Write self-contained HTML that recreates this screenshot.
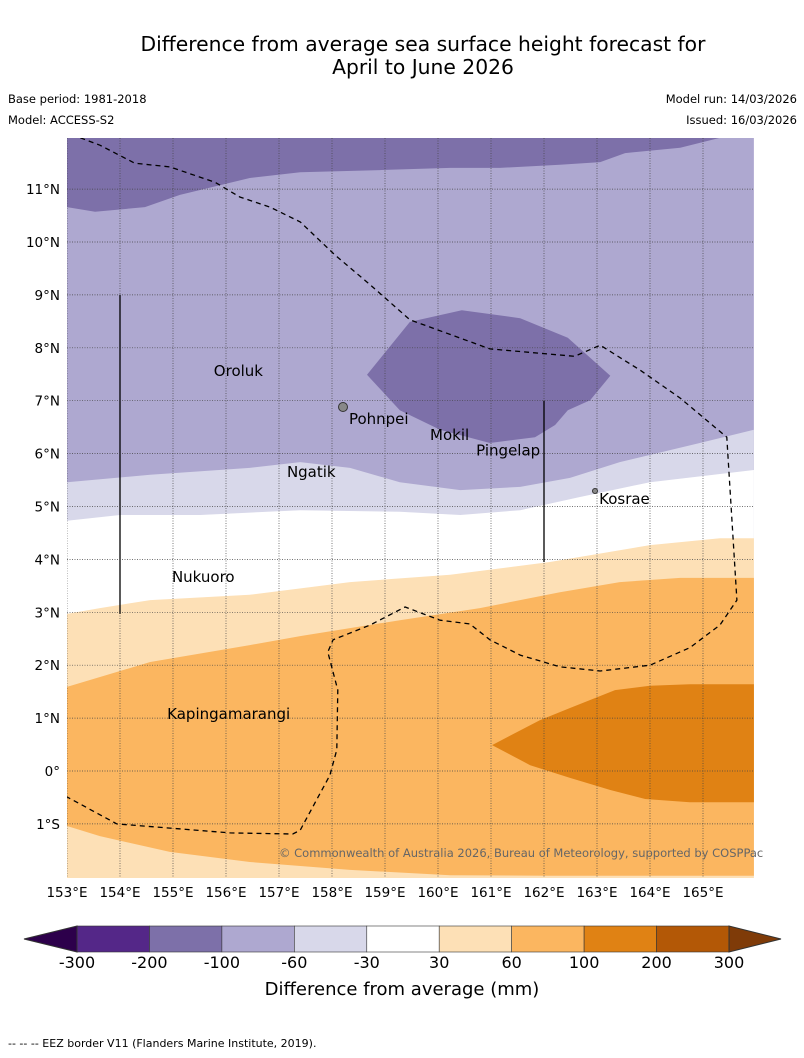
<!DOCTYPE html>
<html><head><meta charset="utf-8"><style>
body{margin:0;background:#fff;width:804px;height:1058px;overflow:hidden;font-family:"Liberation Sans","DejaVu Sans",sans-serif}
svg{position:absolute;left:0;top:0}
</style></head><body>
<svg id="s" width="804" height="1058" font-family="DejaVu Sans, Liberation Sans, sans-serif">
<text x="423" y="51" font-size="20.3" text-anchor="middle">Difference from average sea surface height forecast for</text>
<text x="423" y="74" font-size="20.3" text-anchor="middle">April to June 2026</text>
<text x="8" y="103" font-size="11.5">Base period: 1981-2018</text>
<text x="8" y="124" font-size="11.5">Model: ACCESS-S2</text>
<text x="797" y="103" font-size="11.5" text-anchor="end">Model run: 14/03/2026</text>
<text x="797" y="124" font-size="11.5" text-anchor="end">Issued: 16/03/2026</text>
<defs><clipPath id="mc"><rect x="67" y="138" width="687" height="740"/></clipPath></defs>
<g id="map" clip-path="url(#mc)"></g>
<g id="over"></g>
<text x="279" y="857" font-size="11.5" fill="#666">© Commonwealth of Australia 2026, Bureau of Meteorology, supported by COSPPac</text>
<g id="cb"></g>
<text x="402" y="995" font-size="18" text-anchor="middle">Difference from average (mm)</text>
<text x="8" y="1047" font-size="11">-- -- -- EEZ border V11 (Flanders Marine Institute, 2019).</text>
</svg>
<script>
const lonTicks=[153,154,155,156,157,158,159,160,161,162,163,164,165];
const latTicks=[11,10,9,8,7,6,5,4,3,2,1,0,-1];
const latLabels=["11°N","10°N","9°N","8°N","7°N","6°N","5°N","4°N","3°N","2°N","1°N","0°","1°S"];
const cbLevels=[-300,-200,-100,-60,-30,30,60,100,200,300];
const cbColors=["#542788","#7d70a9","#aea8d0","#d8d8ea","#ffffff","#fde0b6","#fbb660","#e08214","#b35806"];
const band100Top=[[153,10.66],[153.53,10.57],[154.47,10.66],[155.13,10.89],[156.45,11.21],[157.4,11.32],[158.9,11.36],[160.23,11.4],[161.17,11.4],[162.3,11.46],[163.06,11.51],[163.53,11.68],[164.57,11.78],[165.32,11.97]];
const blob=[[158.66,7.49],[159.47,8.49],[160.45,8.71],[161.55,8.56],[162.45,8.19],[163.25,7.47],[162.87,7.01],[162.45,6.82],[162.21,6.54],[161.83,6.31],[160.98,6.2],[160.04,6.45],[159.28,6.82]];
const band60=[[153,5.46],[154.57,5.6],[156.45,5.73],[157.4,5.84],[158.34,5.73],[159.28,5.46],[160.42,5.31],[161.55,5.37],[162.49,5.54],[163.43,5.84],[164.94,6.2],[165.96,6.45]];
const band30=[[153,4.73],[154,4.84],[155.51,4.84],[157.4,4.93],[159.28,4.9],[160.42,4.84],[161.55,4.93],[162.68,5.18],[164,5.46],[165.96,5.69]];
const bandP30=[[153,2.97],[153.62,3.08],[154.57,3.23],[156.45,3.33],[158.34,3.57],[160.23,3.71],[162.11,3.95],[164,4.27],[165.32,4.4],[165.96,4.4]];
const bandP60Top=[[153,1.59],[154.57,2.06],[156.45,2.38],[157.4,2.55],[159.28,2.85],[160.79,3.08],[162.3,3.38],[163.43,3.57],[164.57,3.65],[165.96,3.65]];
const bandP60Bot=[[165.96,-1.98],[164,-1.98],[162.11,-1.98],[160.23,-1.97],[158.34,-1.87],[156.45,-1.72],[154.94,-1.53],[153.62,-1.23],[153,-1.04]];
const blob100=[[161.02,0.49],[161.92,0.96],[162.49,1.19],[163.34,1.53],[164,1.61],[164.75,1.64],[165.96,1.64],[165.96,-0.59],[164.75,-0.59],[163.91,-0.53],[163.25,-0.36],[162.49,-0.13],[161.74,0.11]];
const eez=[[153.25,11.97],[153.62,11.83],[154.28,11.49],[154.94,11.42],[155.79,11.13],[156.26,10.85],[156.83,10.66],[157.4,10.38],[158.06,9.75],[158.72,9.19],[159.47,8.53],[160.98,7.98],[162.58,7.84],[163.06,8.05],[163.81,7.58],[164.57,7.05],[165.45,6.31],[165.64,3.23],[165.32,2.76],[164.75,2.33],[164,2.0],[163.06,1.89],[162.3,1.97],[161.55,2.19],[160.98,2.48],[160.6,2.78],[160.04,2.85],[159.38,3.1],[158.72,2.76],[158.02,2.48],[157.92,2.25],[158.11,1.53],[158.09,0.4],[157.96,-0.08],[157.4,-1.12],[157.26,-1.19],[156.08,-1.17],[154.94,-1.08],[153.94,-1.0],[153,-0.49]];
const places=["Oroluk","Pohnpei","Mokil","Pingelap","Ngatik","Kosrae","Nukuoro","Kapingamarangi"];
const placeLon=[155.77,158.32,159.85,160.72,157.15,163.04,154.98,154.89];
const placeLat=[7.47,6.56,6.26,5.96,5.56,5.05,3.57,0.98];

const NS="http://www.w3.org/2000/svg";
const X=lon=>67+(lon-153)*53, Y=lat=>771-lat*52.9;
const LON0=153,LON1=165.96,LAT0=-1.98,LAT1=11.97;
function el(t,a,p){const e=document.createElementNS(NS,t);for(const k in a)e.setAttribute(k,a[k]);p.appendChild(e);return e;}
const pts=a=>a.map(p=>X(p[0]).toFixed(1)+","+Y(p[1]).toFixed(1)).join(" ");
const map=document.getElementById('map'),over=document.getElementById('over'),cb=document.getElementById('cb');
let r=el('rect',{x:X(LON0),y:Y(LAT1),width:X(LON1)-X(LON0),height:Y(LAT0)-Y(LAT1),fill:cbColors[2]},map);

function band(top,bottom,color,name){const p=el('polygon',{points:pts(top.concat(bottom)),fill:color},map);
}
band(band100Top,[[LON1,LAT1+0.1],[LON0,LAT1+0.1]],cbColors[1],'band-minus200-top');
band(blob,[],cbColors[1],'band-minus200-blob');
band(band60,[[LON1,LAT0-0.1],[LON0,LAT0-0.1]],cbColors[3],'band-minus60');
band(band30,[[LON1,LAT0-0.1],[LON0,LAT0-0.1]],cbColors[4],'band-minus30');
band(bandP30,[[LON1,LAT0-0.1],[LON0,LAT0-0.1]],cbColors[5],'band-plus30');
band(bandP60Top,bandP60Bot,cbColors[6],'band-plus60');
band(blob100,[],cbColors[7],'band-plus100');
lonTicks.forEach(l=>{const g=el('line',{x1:X(l),x2:X(l),y1:138,y2:878,stroke:'#444','stroke-width':0.7,'stroke-dasharray':'1,1.5'},map);

const t=el('text',{x:X(l),y:897,'font-size':13.5,'text-anchor':'middle'},over);t.textContent=l+'°E';
});
latTicks.forEach((l,i)=>{const g=el('line',{x1:67,x2:754,y1:Y(l),y2:Y(l),stroke:'#444','stroke-width':0.7,'stroke-dasharray':'1,1.5'},map);

const t=el('text',{x:60,y:Y(l)+5,'font-size':13.5,'text-anchor':'end'},over);t.textContent=latLabels[i];
});
let e=el('polyline',{points:pts(eez),fill:'none',stroke:'#000','stroke-width':1.3,'stroke-dasharray':'5,4'},map);

let v1=el('line',{x1:X(154),x2:X(154),y1:Y(9),y2:Y(2.97),stroke:'#000','stroke-width':1.3},map);

let v2=el('line',{x1:X(162),x2:X(162),y1:Y(7),y2:Y(3.95),stroke:'#000','stroke-width':1.3},map);

let is1=el('circle',{cx:343,cy:407,r:4.5,fill:'#888',stroke:'#333'},map);

let is2=el('circle',{cx:595,cy:491,r:2.5,fill:'#888',stroke:'#333'},map);

places.forEach((n,i)=>{const t=el('text',{x:X(placeLon[i]),y:Y(placeLat[i]),'font-size':15},over);t.textContent=n;
});
const cx0=77,cw=(729-77)/cbColors.length,cy=926,ch=26;
cbColors.forEach((c,i)=>{const s=el('rect',{x:cx0+i*cw,y:cy,width:cw,height:ch,fill:c,stroke:'#333','stroke-width':0.6},cb);
});
let tl=el('polygon',{points:`${cx0},${cy} ${cx0},${cy+ch} 24,${cy+ch/2}`,fill:'#2d004b',stroke:'#333'},cb);

let tr=el('polygon',{points:`729,${cy} 729,${cy+ch} 781,${cy+ch/2}`,fill:'#7f3b08',stroke:'#333'},cb);

cbLevels.forEach((v,i)=>{const t=el('text',{x:cx0+i*cw,y:968,'font-size':16,'text-anchor':'middle'},cb);t.textContent=v;
});
</script>
</body></html>
